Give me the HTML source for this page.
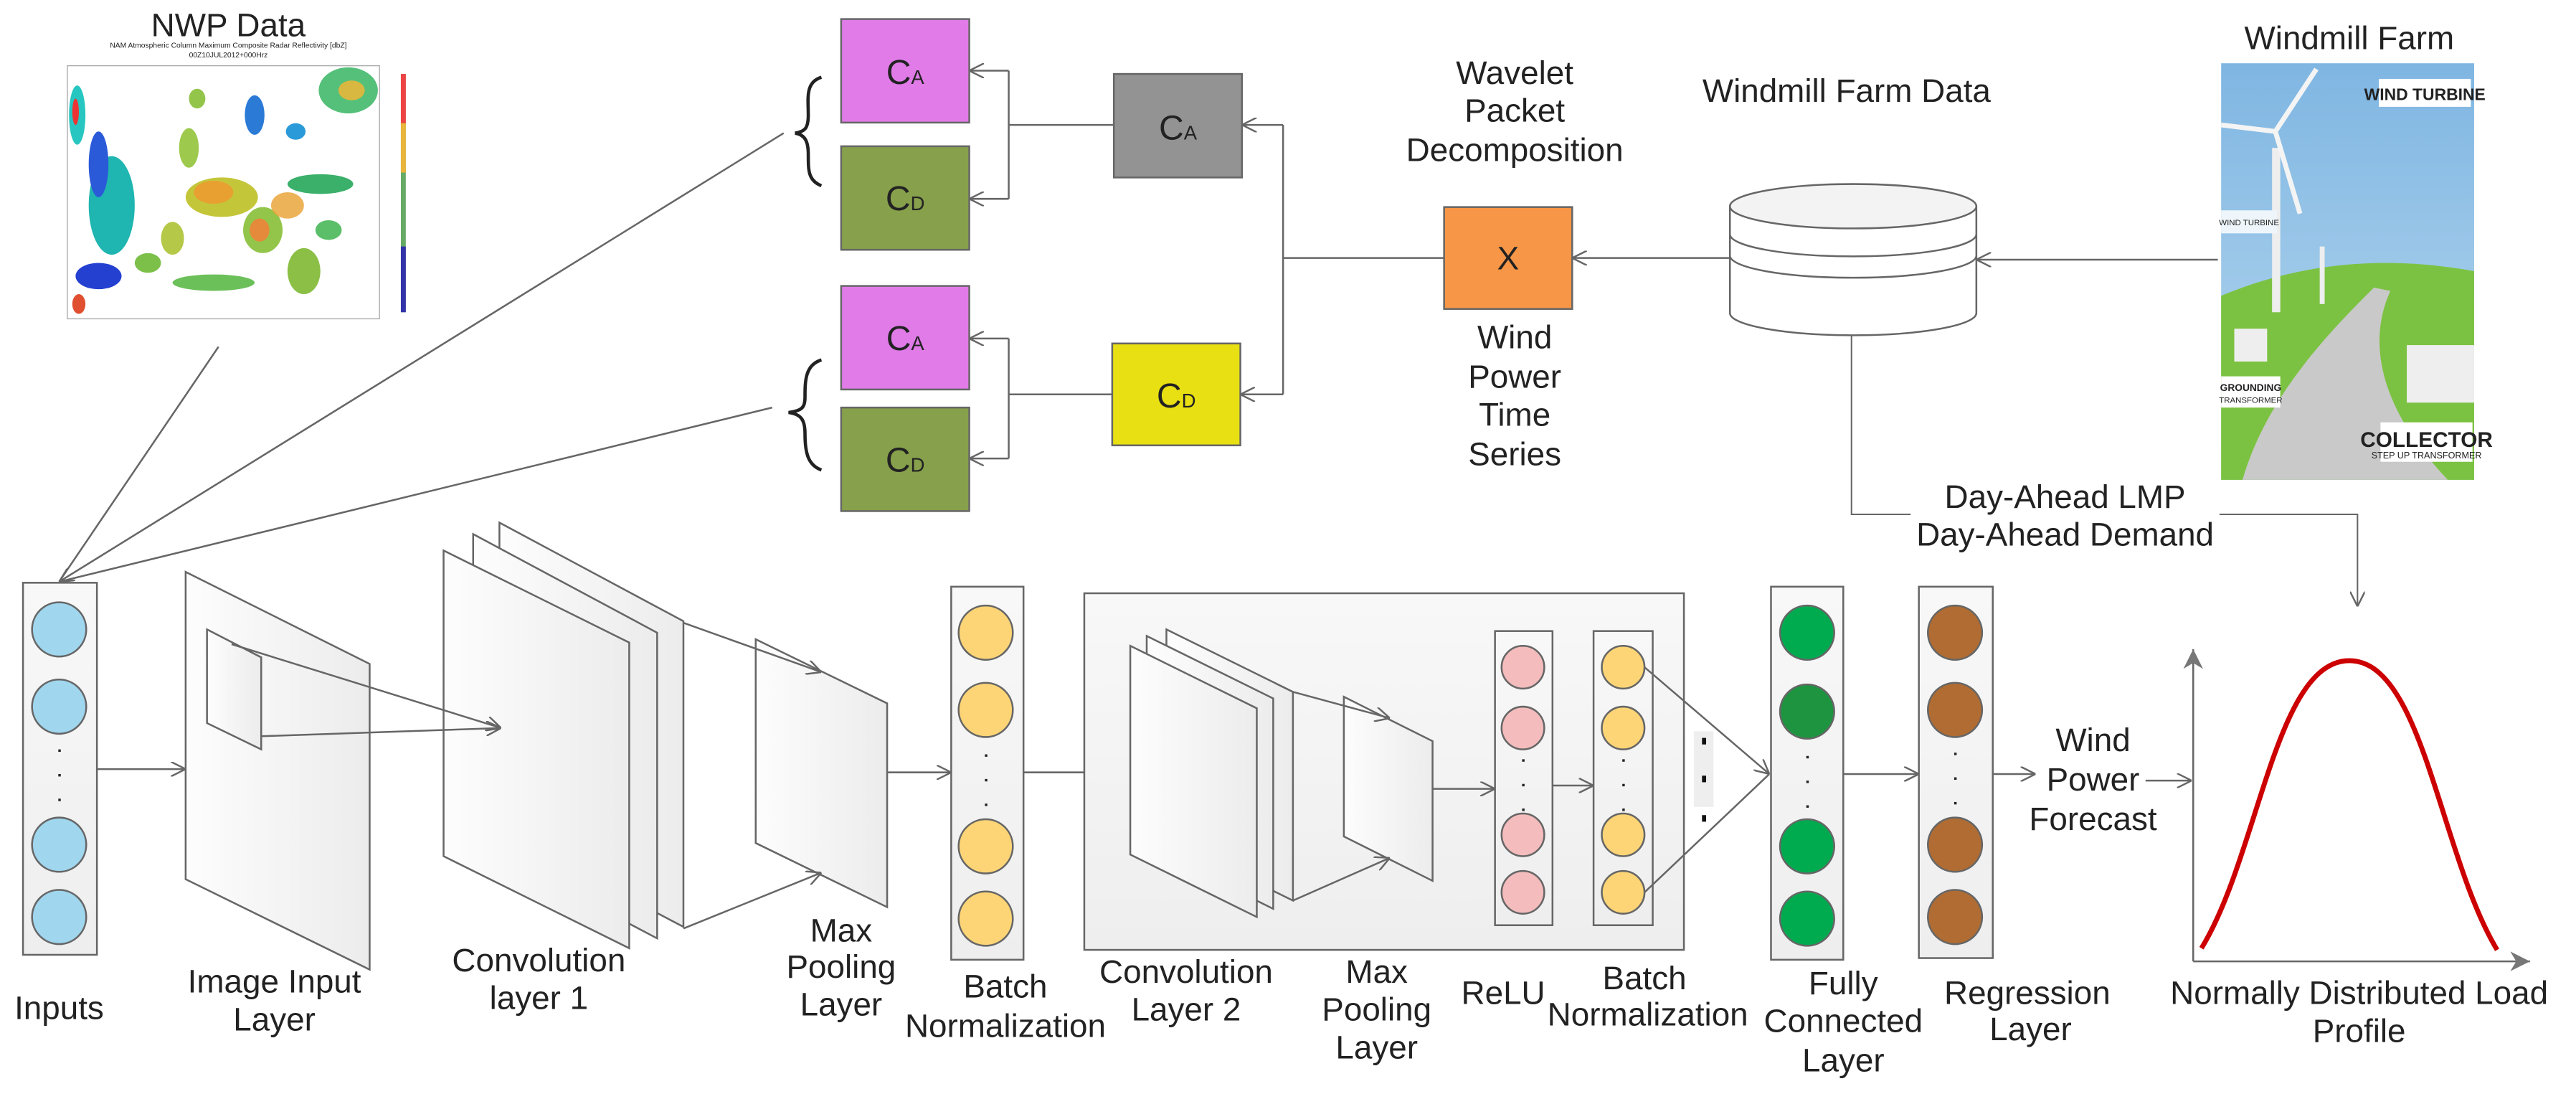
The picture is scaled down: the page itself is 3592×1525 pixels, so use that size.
<!DOCTYPE html>
<html><head><meta charset="utf-8"><style>
html,body{margin:0;padding:0;background:#fff;}
svg{display:block;}
text{font-family:"Liberation Sans",Arial,sans-serif;fill:#222;}
</style></head><body>
<svg width="3592" height="1525" viewBox="0 0 1568 665.7" preserveAspectRatio="none" xmlns="http://www.w3.org/2000/svg">
<defs>
<marker id="ar" viewBox="0 0 10 10" refX="10" refY="5" markerWidth="9" markerHeight="9" markerUnits="userSpaceOnUse" orient="auto"><path d="M0,0 L10,5 L0,10" fill="none" stroke="#666" stroke-width="1.2"/></marker>
<marker id="af" viewBox="0 0 10 10" refX="10" refY="5" markerWidth="12" markerHeight="12" markerUnits="userSpaceOnUse" orient="auto"><path d="M0,0 L10,5 L0,10 L3,5 z" fill="#777"/></marker>
<linearGradient id="pg" x1="0" y1="0" x2="1" y2="0"><stop offset="0" stop-color="#fdfdfd"/><stop offset="1" stop-color="#ececec"/></linearGradient>
<linearGradient id="cg" x1="0" y1="0" x2="0" y2="1"><stop offset="0" stop-color="#f8f8f8"/><stop offset="1" stop-color="#eeeeee"/></linearGradient>
<linearGradient id="sky" x1="0" y1="0" x2="0" y2="1"><stop offset="0" stop-color="#7fb6e2"/><stop offset="1" stop-color="#b9d9ef"/></linearGradient>
</defs>
<g stroke="#666" stroke-width="1.1" fill="none">

<!-- NWP map -->
<text x="139" y="22" font-size="20" text-anchor="middle" stroke="none">NWP Data</text>
<text x="139" y="29" font-size="4.5" text-anchor="middle" stroke="none" fill="#666">NAM Atmospheric Column Maximum Composite Radar Reflectivity [dbZ]</text>
<text x="139" y="35" font-size="4.5" text-anchor="middle" stroke="none" fill="#666">00Z10JUL2012+000Hrz</text>
<rect x="41" y="40" width="190" height="154" fill="#fff" stroke="#aaa" stroke-width="0.6"/>
<g stroke="none">
<ellipse cx="68" cy="125" rx="14" ry="30" fill="#1fb5b0"/>
<ellipse cx="60" cy="100" rx="6" ry="20" fill="#2a5ad8"/>
<ellipse cx="47" cy="70" rx="5" ry="18" fill="#27c6c0"/>
<ellipse cx="46" cy="68" rx="2" ry="8" fill="#e33"/>
<ellipse cx="135" cy="120" rx="22" ry="12" fill="#c4c63a"/>
<ellipse cx="130" cy="117" rx="12" ry="7" fill="#e8a030"/>
<ellipse cx="160" cy="140" rx="12" ry="14" fill="#93c54b"/>
<ellipse cx="158" cy="140" rx="6" ry="7" fill="#e58a3a"/>
<ellipse cx="195" cy="112" rx="20" ry="6" fill="#3ab06a"/>
<ellipse cx="212" cy="55" rx="18" ry="14" fill="#55c07a"/>
<ellipse cx="214" cy="55" rx="8" ry="6" fill="#d8b840"/>
<ellipse cx="155" cy="70" rx="6" ry="12" fill="#2b7bd6"/>
<ellipse cx="115" cy="90" rx="6" ry="12" fill="#9dc94d"/>
<ellipse cx="185" cy="165" rx="10" ry="14" fill="#8bbf45"/>
<ellipse cx="60" cy="168" rx="14" ry="8" fill="#2340d0"/>
<ellipse cx="130" cy="172" rx="25" ry="5" fill="#6cc05a"/>
<ellipse cx="48" cy="185" rx="4" ry="6" fill="#e05030"/>
<ellipse cx="105" cy="145" rx="7" ry="10" fill="#b6c848"/>
<ellipse cx="180" cy="80" rx="6" ry="5" fill="#2a9ad8"/>
<ellipse cx="90" cy="160" rx="8" ry="6" fill="#7cc04a"/>
<ellipse cx="175" cy="125" rx="10" ry="8" fill="#e8a030" opacity="0.8"/>
<ellipse cx="200" cy="140" rx="8" ry="6" fill="#5bbf6a"/>
<ellipse cx="120" cy="60" rx="5" ry="6" fill="#93c54b"/>
<rect x="244" y="45" width="3" height="145" fill="#6a6"/>
<rect x="244" y="45" width="3" height="30" fill="#e44"/>
<rect x="244" y="75" width="3" height="30" fill="#e9b53a"/>
<rect x="244" y="150" width="3" height="40" fill="#33a"/>
</g>

<!-- decomposition boxes -->
<rect x="512" y="11.6" width="78" height="63" fill="#e07be8"/>
<rect x="512" y="89" width="78" height="63" fill="#86a04b"/>
<rect x="512" y="174" width="78" height="63" fill="#e07be8"/>
<rect x="512" y="248" width="78" height="63" fill="#86a04b"/>
<rect x="678" y="45" width="78" height="63" fill="#939393"/>
<rect x="677" y="209" width="78" height="62" fill="#e8e012"/>
<rect x="879" y="126" width="78" height="62" fill="#f79646"/>
<g stroke="none" font-size="21" text-anchor="middle">
<text x="551" y="51">C<tspan font-size="12">A</tspan></text>
<text x="551" y="128">C<tspan font-size="12">D</tspan></text>
<text x="551" y="213">C<tspan font-size="12">A</tspan></text>
<text x="551" y="287">C<tspan font-size="12">D</tspan></text>
<text x="717" y="85">C<tspan font-size="12">A</tspan></text>
<text x="716" y="248">C<tspan font-size="12">D</tspan></text>
<text x="918" y="164" font-size="20">X</text>
</g>
<path d="M678,76 H614 M614,43 V121"/>
<path d="M614,43 H590" marker-end="url(#ar)"/>
<path d="M614,121 H590" marker-end="url(#ar)"/>
<path d="M677,240 H614 M614,206 V279"/>
<path d="M614,206 H590" marker-end="url(#ar)"/>
<path d="M614,279 H590" marker-end="url(#ar)"/>
<path d="M879,157 H781 M781,76 V240"/>
<path d="M781,76 H756" marker-end="url(#ar)"/>
<path d="M781,240 H755" marker-end="url(#ar)"/>
<!-- braces -->
<path d="M500,47 C490,50 492,60 492,70 C492,78 490,80 484,81 C490,82 492,86 492,94 C492,104 492,110 500,113" stroke="#222" stroke-width="2"/>
<path d="M500,219 C490,222 490,232 490,242 C490,248 488,250 480,251 C488,252 490,256 490,264 C490,276 492,283 500,286" stroke="#222" stroke-width="2"/>
<!-- lines to inputs -->
<path d="M477,81 L36,354" marker-end="url(#ar)"/>
<path d="M470,248 L36,354"/>
<path d="M133,211 L36,354"/>

<text x="922" y="51" font-size="20" text-anchor="middle" stroke="none">Wavelet</text>
<text x="922" y="74" font-size="20" text-anchor="middle" stroke="none">Packet</text>
<text x="922" y="98" font-size="20" text-anchor="middle" stroke="none">Decomposition</text>
<text x="922" y="212" font-size="20" text-anchor="middle" stroke="none">Wind</text>
<text x="922" y="236" font-size="20" text-anchor="middle" stroke="none">Power</text>
<text x="922" y="259" font-size="20" text-anchor="middle" stroke="none">Time</text>
<text x="922" y="283" font-size="20" text-anchor="middle" stroke="none">Series</text>
<text x="1124" y="62" font-size="20" text-anchor="middle" stroke="none">Windmill Farm Data</text>
<text x="1430" y="30" font-size="20" text-anchor="middle" stroke="none">Windmill Farm</text>

<!-- cylinder -->
<path d="M1053,125.5 V190.5 A75,13.5 0 0 0 1203,190.5 V125.5" fill="#fff"/>
<ellipse cx="1128" cy="125.5" rx="75" ry="13.5" fill="#f3f3f3"/>
<path d="M1053,142.5 A75,13.5 0 0 0 1203,142.5"/>
<path d="M1053,155.5 A75,13.5 0 0 0 1203,155.5"/>
<path d="M1053,157 H957" marker-end="url(#ar)"/>
<path d="M1350,158 H1203" marker-end="url(#ar)"/>
<path d="M1127,204 V313 H1435 V369" marker-end="url(#ar)" stroke-width="0.9"/>
<rect x="1163" y="290" width="188" height="46" fill="#fff" stroke="none"/>
<text x="1257" y="309" font-size="20" text-anchor="middle" stroke="none">Day-Ahead LMP</text>
<text x="1257" y="332" font-size="20" text-anchor="middle" stroke="none">Day-Ahead Demand</text>

<!-- windmill image -->
<g stroke="none">
<rect x="1352" y="38.5" width="154" height="253.5" fill="url(#sky)"/>
<path d="M1352,180 C1400,160 1450,155 1506,165 V292 H1352 Z" fill="#7cc242"/>
<path d="M1365,292 C1380,240 1420,200 1445,175 L1455,177 C1440,210 1450,250 1490,292 Z" fill="#c9c9c9"/>
<rect x="1383" y="90" width="5" height="100" fill="#eee"/>
<path d="M1385,80 L1410,42 M1385,80 L1352,76 M1385,80 L1400,130" stroke="#f4f4f4" stroke-width="3"/>
<rect x="1412" y="150" width="3" height="35" fill="#eee"/>
<rect x="1465" y="210" width="41" height="35" fill="#eee"/>
<rect x="1360" y="200" width="20" height="20" fill="#eee"/>
<rect x="1448" y="48" width="56" height="17" fill="#fff"/>
<text x="1476" y="61" font-size="10" text-anchor="middle" fill="#2aa0d0" font-weight="bold">WIND TURBINE</text>
<rect x="1352" y="128" width="34" height="14" fill="#eef6fb"/>
<text x="1369" y="137" font-size="5" text-anchor="middle" fill="#2aa0d0">WIND TURBINE</text>
<rect x="1352" y="229" width="36" height="19" fill="#fff"/>
<text x="1370" y="238" font-size="6" text-anchor="middle" fill="#2aa0d0" font-weight="bold">GROUNDING</text>
<text x="1370" y="245" font-size="5" text-anchor="middle" fill="#2aa0d0">TRANSFORMER</text>
<rect x="1449" y="257" width="56" height="24" fill="#fff"/>
<text x="1477" y="272" font-size="13" text-anchor="middle" fill="#1a8fd0" font-weight="bold">COLLECTOR</text>
<text x="1477" y="279" font-size="5.5" text-anchor="middle" fill="#1a8fd0">STEP UP TRANSFORMER</text>
</g>

<!-- inputs column -->
<rect x="14" y="354.6" width="45" height="226.4" fill="url(#cg)"/>
<g fill="#a0d6ee"><ellipse cx="36" cy="383" rx="16.5" ry="16.5"/><ellipse cx="36" cy="430" rx="16.5" ry="16.5"/><ellipse cx="36" cy="514" rx="16.5" ry="16.5"/><ellipse cx="36" cy="558" rx="16.5" ry="16.5"/></g>
<g stroke="none" fill="#222"><rect x="35.5" y="456" width="1.5" height="1.5"/><rect x="35.5" y="471" width="1.5" height="1.5"/><rect x="35.5" y="486" width="1.5" height="1.5"/></g>
<path d="M59,468 H113" marker-end="url(#ar)"/>

<!-- image input layer -->
<path d="M113,348 L225,404 V590 L113,535 Z" fill="url(#pg)"/>
<path d="M126,383 L159,400 V456 L126,440 Z" fill="url(#pg)"/>
<!-- conv1 -->
<path d="M304,318 L416,378 V564 L304,505 Z" fill="url(#pg)"/>
<path d="M288,325 L400,385 V571 L288,512 Z" fill="url(#pg)"/>
<path d="M270,335 L383,391 V577 L270,521 Z" fill="url(#pg)"/>
<path d="M141,392 L305,443" marker-end="url(#ar)"/>
<path d="M159,448 L305,443" marker-end="url(#ar)"/>
<!-- maxpool1 -->
<path d="M460,389 L540,428 V552 L460,513 Z" fill="url(#pg)"/>
<path d="M416,379 L500,409" marker-end="url(#ar)"/>
<path d="M416,565 L500,531" marker-end="url(#ar)"/>
<path d="M540,470 H579" marker-end="url(#ar)"/>
<!-- BN1 -->
<rect x="579" y="357" width="44" height="227" fill="url(#cg)"/>
<g fill="#fdd576"><ellipse cx="600" cy="385" rx="16.5" ry="16.5"/><ellipse cx="600" cy="432" rx="16.5" ry="16.5"/><ellipse cx="600" cy="515" rx="16.5" ry="16.5"/><ellipse cx="600" cy="559" rx="16.5" ry="16.5"/></g>
<g stroke="none" fill="#222"><rect x="599.5" y="459" width="1.5" height="1.5"/><rect x="599.5" y="474" width="1.5" height="1.5"/><rect x="599.5" y="489" width="1.5" height="1.5"/></g>
<path d="M623,470 H686" marker-end="url(#ar)"/>
<!-- conv2 box -->
<rect x="660" y="361" width="365" height="217" fill="url(#cg)"/>
<path d="M710,383 L787,421 V548 L710,510 Z" fill="url(#pg)"/>
<path d="M698,387 L775,425 V553 L698,515 Z" fill="url(#pg)"/>
<path d="M688,393 L765,431 V558 L688,520 Z" fill="url(#pg)"/>
<path d="M818,424 L872,451 V536 L818,509 Z" fill="url(#pg)"/>
<path d="M787,421 L846,437" marker-end="url(#ar)"/>
<path d="M787,548 L846,522" marker-end="url(#ar)"/>
<path d="M872,480 H910" marker-end="url(#ar)"/>
<rect x="910" y="384" width="35" height="179" fill="url(#cg)"/>
<g fill="#f4bcbc"><ellipse cx="927" cy="406" rx="13" ry="13"/><ellipse cx="927" cy="443" rx="13" ry="13"/><ellipse cx="927" cy="508" rx="13" ry="13"/><ellipse cx="927" cy="543" rx="13" ry="13"/></g>
<g stroke="none" fill="#222"><rect x="926.5" y="462" width="1.5" height="1.5"/><rect x="926.5" y="477" width="1.5" height="1.5"/><rect x="926.5" y="492" width="1.5" height="1.5"/></g>
<path d="M945,478 H970" marker-end="url(#ar)"/>
<rect x="970" y="384" width="36" height="179" fill="url(#cg)"/>
<g fill="#fdd576"><ellipse cx="988" cy="406" rx="13" ry="13"/><ellipse cx="988" cy="443" rx="13" ry="13"/><ellipse cx="988" cy="508" rx="13" ry="13"/><ellipse cx="988" cy="543" rx="13" ry="13"/></g>
<g stroke="none" fill="#222"><rect x="987.5" y="462" width="1.5" height="1.5"/><rect x="987.5" y="477" width="1.5" height="1.5"/><rect x="987.5" y="492" width="1.5" height="1.5"/></g>
<rect x="1031" y="445" width="12" height="46" fill="#eee" stroke="none"/>
<g stroke="none" fill="#111"><rect x="1036" y="449" width="2.5" height="4"/><rect x="1036" y="472" width="2.5" height="4"/><rect x="1036" y="496" width="2.5" height="4"/></g>
<path d="M1001,406 L1077,471" marker-end="url(#ar)"/>
<path d="M1001,543 L1077,471"/>
<!-- FC -->
<rect x="1078" y="357" width="44" height="227" fill="url(#cg)"/>
<ellipse cx="1100" cy="385" rx="16.5" ry="16.5" fill="#00ab50"/>
<ellipse cx="1100" cy="433" rx="16.5" ry="16.5" fill="#1e9440"/>
<ellipse cx="1100" cy="515" rx="16.5" ry="16.5" fill="#00ab50"/>
<ellipse cx="1100" cy="559" rx="16.5" ry="16.5" fill="#00ab50"/>
<g stroke="none" fill="#222"><rect x="1099.5" y="460" width="1.5" height="1.5"/><rect x="1099.5" y="475" width="1.5" height="1.5"/><rect x="1099.5" y="490" width="1.5" height="1.5"/></g>
<path d="M1122,471 H1168" marker-end="url(#ar)"/>
<!-- regression -->
<rect x="1168" y="357" width="45" height="226" fill="url(#cg)"/>
<g fill="#b06c32"><ellipse cx="1190" cy="385" rx="16.5" ry="16.5"/><ellipse cx="1190" cy="432" rx="16.5" ry="16.5"/><ellipse cx="1190" cy="514" rx="16.5" ry="16.5"/><ellipse cx="1190" cy="558" rx="16.5" ry="16.5"/></g>
<g stroke="none" fill="#222"><rect x="1189.5" y="458" width="1.5" height="1.5"/><rect x="1189.5" y="473" width="1.5" height="1.5"/><rect x="1189.5" y="488" width="1.5" height="1.5"/></g>
<path d="M1213,471 H1239" marker-end="url(#ar)"/>
<path d="M1306,475 H1334" marker-end="url(#ar)"/>
<!-- plot -->
<path d="M1335,585 V395" marker-end="url(#af)"/>
<path d="M1335,585 H1540" marker-end="url(#af)"/>
<path d="M1340,577 C1375,520 1385,402 1430,402 C1475,402 1485,520 1520,578" stroke="#cc0000" stroke-width="3"/>
</g>

<g font-size="20" text-anchor="middle">
<text x="1274" y="457">Wind</text>
<text x="1274" y="481">Power</text>
<text x="1274" y="505">Forecast</text>
<text x="1436" y="611">Normally Distributed Load</text>
<text x="1436" y="634">Profile</text>
<text x="36" y="620">Inputs</text>
<text x="167" y="604">Image Input</text>
<text x="167" y="627">Layer</text>
<text x="328" y="591">Convolution</text>
<text x="328" y="614">layer 1</text>
<text x="512" y="573">Max</text>
<text x="512" y="595">Pooling</text>
<text x="512" y="618">Layer</text>
<text x="612" y="607">Batch</text>
<text x="612" y="631">Normalization</text>
<text x="722" y="598">Convolution</text>
<text x="722" y="621">Layer 2</text>
<text x="838" y="598">Max</text>
<text x="838" y="621">Pooling</text>
<text x="838" y="644">Layer</text>
<text x="915" y="611">ReLU</text>
<text x="1001" y="602">Batch</text>
<text x="1003" y="624">Normalization</text>
<text x="1122" y="605">Fully</text>
<text x="1122" y="628">Connected</text>
<text x="1122" y="652">Layer</text>
<text x="1234" y="611">Regression</text>
<text x="1236" y="633">Layer</text>
</g>
</svg>
</body></html>
